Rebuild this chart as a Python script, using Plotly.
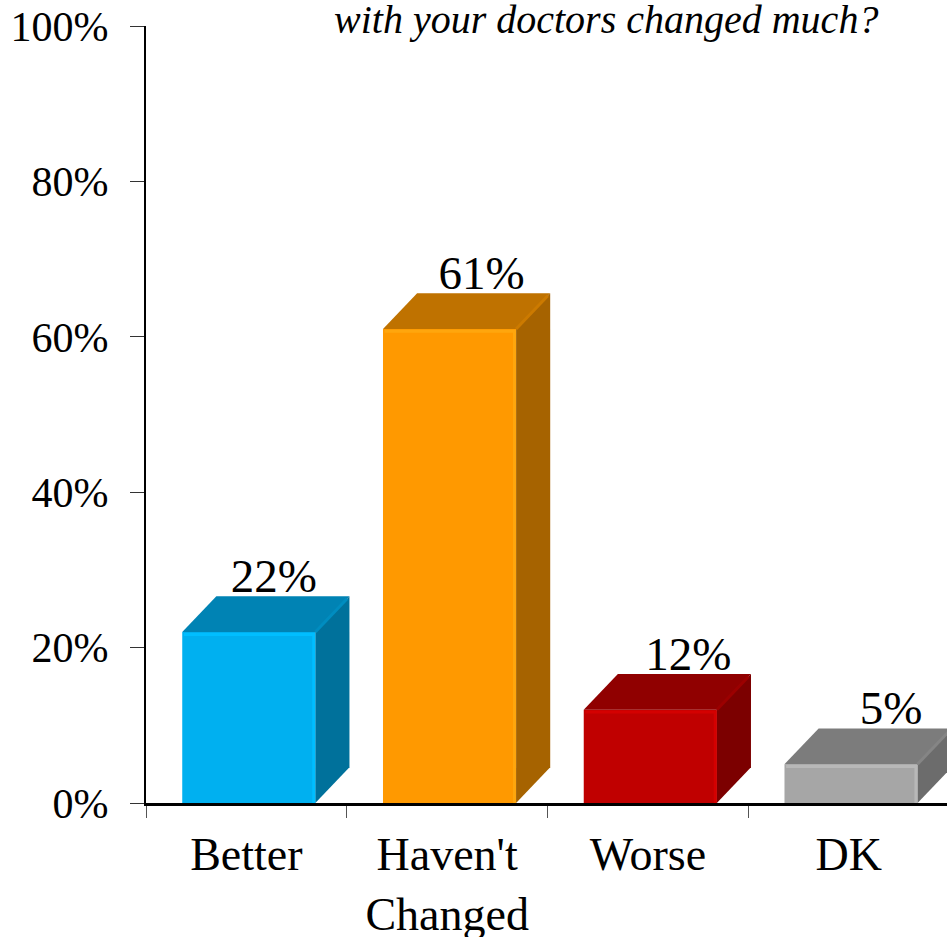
import plotly.graph_objects as go

categories = ["Better", "Haven't<br>Changed", "Worse", "DK"]
values = [22, 61, 12, 5]
labels = ["22%", "61%", "12%", "5%"]
y_ticks = [0, 20, 40, 60, 80, 100]
y_tick_labels = ["0%", "20%", "40%", "60%", "80%", "100%"]
face_colors = ["#00B0F0", "#FF9900", "#C00000", "#A6A6A6"]
top_colors = ["#0083B4", "#BF7200", "#900000", "#7C7C7C"]
side_colors = ["#00719B", "#A66300", "#7C0000", "#6C6C6C"]
glow_colors = ["#00BEFF", "#FFA60D", "#D40000", "#B8B8B8"]
edge_colors = ["#008DC0", "#CC7A00", "#9C0000", "#858585"]
label_shift = [0.125, 0.16, 0.19, 0.2]
subtitle = "with your doctors changed much?"

FONT = "Liberation Serif"
W = 0.663
DX = 0.17
DY = 4.6
SHIFT = 0.012
xs = [i + SHIFT for i in range(len(categories))]

fig = go.Figure()
fig.add_trace(go.Bar(x=xs, y=values, width=W, marker=dict(color=face_colors, line=dict(width=0)),
                     hoverinfo="skip"))

for x, v, top, side, glow, edge in zip(xs, values, top_colors, side_colors, glow_colors, edge_colors):
    l, r = x - W / 2, x + W / 2
    fig.add_trace(go.Scatter(x=[l, r, r + DX, l + DX, l], y=[v, v, v + DY, v + DY, v], mode="lines",
                             fill="toself", fillcolor=top, line=dict(width=0, color=top), hoverinfo="skip"))
    fig.add_trace(go.Scatter(x=[r, r + DX, r + DX, r, r], y=[0, DY, v + DY, v, 0], mode="lines",
                             fill="toself", fillcolor=side, line=dict(width=0, color=side), hoverinfo="skip"))
    fig.add_trace(go.Scatter(x=[r, r + DX * 0.93], y=[v, v + DY * 0.93], mode="lines",
                             line=dict(width=3, color=edge), hoverinfo="skip"))
    inset_x, inset_y = 0.008, 0.3
    fig.add_trace(go.Scatter(x=[l + inset_x, r - inset_x, r - inset_x],
                             y=[v - inset_y, v - inset_y, 0], mode="lines",
                             line=dict(width=3, color=glow), hoverinfo="skip"))

fig.add_trace(go.Scatter(x=[x + s for x, s in zip(xs, label_shift)],
                         y=[v + DY - 1.0 for v in values],
                         mode="text", text=labels, textposition="top center",
                         textfont=dict(family=FONT, size=47, color="#000000"),
                         cliponaxis=False, hoverinfo="skip"))

fig.add_annotation(text="<i>" + subtitle + "</i>", xref="paper", yref="paper", x=0.574, y=1.0,
                   xanchor="center", yanchor="bottom", yshift=-18, showarrow=False,
                   font=dict(family=FONT, size=40, color="#000000"))

fig.update_layout(
    width=947, height=937, autosize=False,
    margin=dict(l=146, r=0, t=26, b=134),
    paper_bgcolor="#FFFFFF", plot_bgcolor="#FFFFFF",
    showlegend=False, barmode="overlay",
    xaxis=dict(range=[-0.5, 3.49], tickmode="array", tickvals=list(range(len(categories))),
               ticktext=categories, ticks="", showgrid=False, zeroline=False, automargin=False,
               showline=True, linecolor="#000000", linewidth=3, ticklabelstandoff=9,
               tickfont=dict(family=FONT, size=46, color="#000000"),
               minor=dict(tickmode="array", tickvals=[-0.5, 0.5, 1.5, 2.5], ticks="outside",
                          ticklen=12, tickwidth=1, tickcolor="#555555", showgrid=False)),
    yaxis=dict(range=[0, 100], tickmode="array", tickvals=y_ticks, ticktext=y_tick_labels,
               ticks="outside", ticklen=14, tickwidth=1, tickcolor="#333333", automargin=False,
               showgrid=False, zeroline=False, showline=True, linecolor="#000000", linewidth=2,
               ticklabelstandoff=13, tickfont=dict(family=FONT, size=42, color="#000000")),
)

fig.write_html("out.html", config={"displayModeBar": False},
               post_script="document.body.style.margin='0';document.body.style.overflow='hidden';")
